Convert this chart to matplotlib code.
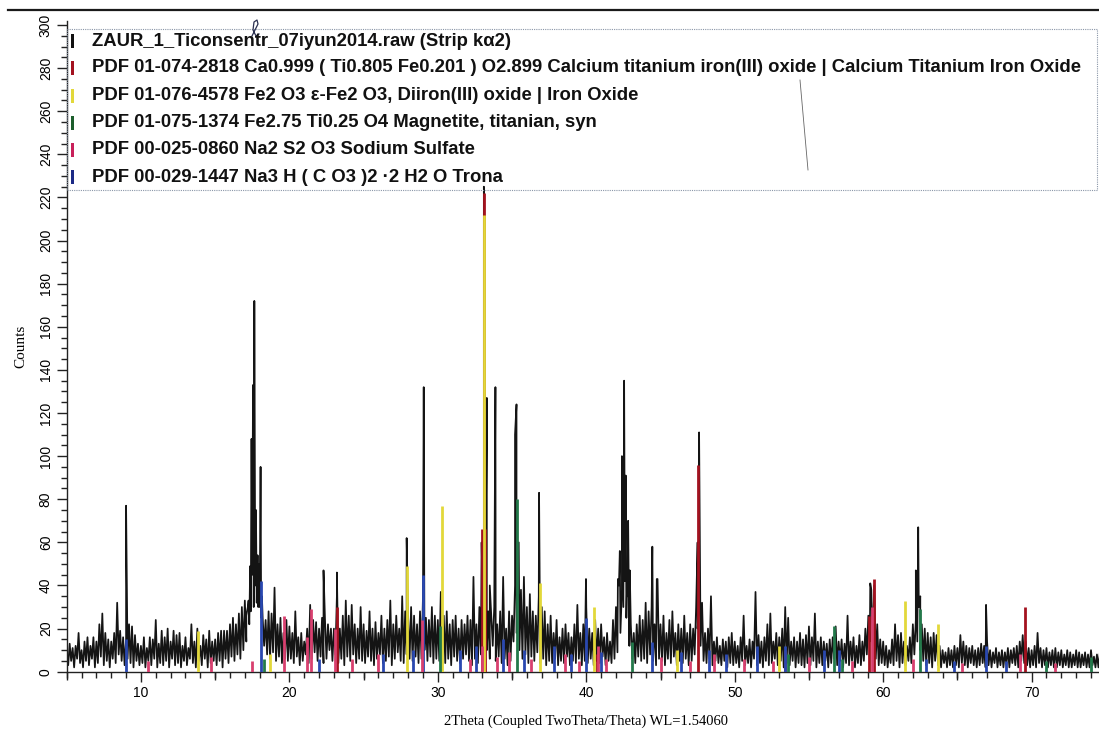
import numpy as np
import matplotlib
matplotlib.use("Agg")
import matplotlib.pyplot as plt
from matplotlib.ticker import MultipleLocator, FixedLocator, NullFormatter
from matplotlib.patches import Rectangle
from matplotlib.lines import Line2D

# --- measured pattern (Counts vs 2Theta) ---
# local maxima of the noisy background, every 0.2 deg from 5.0
bg_top = [
    8, 13, 11, 12, 18, 10, 14, 16, 12, 16, 14, 22, 27, 18, 15, 14, 18, 32, 19, 16, 15, 22, 21, 17, 13,
    12, 16, 11, 16, 15, 24, 13, 19, 16, 20, 14, 19, 17, 18, 12, 16, 11, 22, 14, 20, 12, 17, 15, 19, 14,
    15, 18, 19, 19, 19, 22, 25, 22, 27, 30, 33, 30, 28, 30, 32, 30, 25, 24, 28, 27, 39, 22, 25, 18, 24,
    21, 18, 28, 16, 18, 14, 20, 31, 24, 23, 20, 25, 24, 22, 20, 20, 35, 20, 26, 33, 26, 31, 22, 20, 30,
    22, 19, 28, 20, 23, 18, 26, 20, 24, 33, 22, 26, 20, 35, 28, 25, 30, 26, 22, 28, 35, 25, 24, 30, 26,
    24, 37, 26, 28, 22, 24, 26, 20, 24, 22, 26, 24, 44, 22, 30, 40, 30, 28, 26, 30, 22, 28, 44, 20, 28,
    26, 40, 45, 38, 44, 30, 36, 28, 26, 35, 30, 28, 22, 26, 18, 24, 16, 20, 22, 18, 16, 22, 31, 18, 22,
    30, 20, 18, 24, 20, 22, 16, 18, 14, 24, 30, 40, 38, 42, 35, 22, 18, 22, 26, 24, 32, 28, 30, 22, 43,
    22, 26, 18, 24, 28, 18, 22, 20, 26, 18, 22, 20, 30, 30, 32, 18, 20, 35, 14, 16, 12, 15, 14, 16, 18,
    14, 12, 16, 26, 12, 15, 14, 37, 17, 14, 16, 22, 27, 14, 18, 16, 20, 30, 25, 14, 16, 14, 18, 15, 17,
    21, 16, 27, 14, 16, 14, 13, 15, 16, 21, 14, 15, 13, 26, 14, 16, 12, 17, 14, 20, 26, 38, 40, 22, 15,
    14, 12, 10, 15, 22, 17, 18, 14, 12, 16, 22, 24, 30, 22, 20, 18, 16, 18, 17, 12, 10, 9, 11, 10, 12,
    11, 17, 14, 12, 11, 12, 10, 11, 13, 12, 14, 10, 9, 11, 9, 10, 9, 11, 10, 11, 12, 14, 17, 14, 11,
    10, 12, 18, 11, 10, 11, 9, 10, 11, 9, 10, 8, 10, 9, 8, 10, 9, 8, 9, 8, 10, 7, 8, 9, 8,
]
# valleys between them, every 0.2 deg from 5.1
bg_low = [
    3, 5, 2, 6, 4, 2, 5, 3, 6, 2, 4, 7, 3, 5, 2, 6, 4, 8, 5, 3, 6, 4, 2, 5, 3,
    4, 2, 5, 3, 6, 2, 4, 3, 5, 2, 6, 3, 4, 2, 5, 3, 6, 4, 2, 5, 3, 6, 2, 4, 5,
    3, 5, 2, 6, 4, 7, 5, 8, 6, 10, 14, 22, 45, 40, 30, 25, 12, 8, 6, 9, 5, 7, 4, 6, 5,
    6, 4, 7, 3, 5, 8, 4, 6, 9, 5, 7, 4, 6, 10, 5, 8, 4, 6, 3, 7, 5, 8, 4, 6, 5,
    4, 7, 5, 3, 6, 8, 4, 5, 7, 3, 6, 9, 5, 4, 8, 6, 5, 7, 4, 6, 10, 5, 7, 4, 6,
    5, 8, 4, 6, 3, 7, 5, 4, 6, 8, 5, 3, 6, 4, 8, 14, 10, 6, 12, 5, 7, 4, 6, 3, 5,
    14, 18, 10, 6, 8, 4, 7, 5, 9, 4, 6, 3, 5, 4, 6, 3, 5, 4, 7, 3, 5, 4, 6, 3, 5,
    4, 6, 3, 5, 4, 7, 3, 5, 4, 6, 9, 18, 30, 25, 12, 6, 4, 7, 5, 6, 4, 8, 5, 3, 6,
    5, 3, 6, 4, 7, 3, 5, 4, 6, 3, 5, 8, 20, 12, 5, 4, 6, 3, 5, 4, 3, 5, 2, 4, 3,
    4, 2, 5, 3, 4, 2, 6, 3, 4, 2, 5, 3, 4, 6, 3, 5, 2, 4, 3, 5, 2, 4, 3, 2, 4,
    3, 5, 2, 4, 3, 5, 2, 4, 6, 3, 5, 2, 4, 3, 5, 2, 4, 3, 5, 8, 14, 12, 6, 3, 4,
    3, 2, 4, 3, 5, 2, 4, 3, 5, 4, 8, 14, 10, 5, 3, 4, 2, 5, 3, 2, 4, 2, 3, 2, 3,
    2, 4, 3, 2, 4, 3, 2, 3, 4, 2, 3, 2, 4, 2, 3, 2, 3, 2, 4, 3, 2, 5, 4, 3, 2,
    3, 2, 4, 2, 3, 2, 3, 2, 2, 3, 2, 3, 2, 2, 3, 2, 2, 3, 2, 2, 3, 2, 2, 3, 2,
]
# sharp reflections of the measured pattern
peak_pos = [9.0, 17.1, 17.25, 17.36, 17.45, 17.55, 17.64, 17.75, 17.86, 17.95, 18.06, 18.15,
            22.3, 23.2, 27.9, 29.05, 32.95, 33.1, 33.3, 33.5, 33.88, 35.2, 35.3, 35.45, 36.82,
            39.98, 42.13, 42.26, 42.4, 42.55, 42.66, 42.75, 42.82, 42.93, 44.45, 44.75,
            47.5, 47.6, 59.13, 59.4, 62.2, 62.36, 62.5, 66.93]
peak_cnt = [77, 26, 33, 49, 108, 133, 172, 75, 54, 50, 95, 35,
            47, 46, 62, 132, 60, 225, 127, 40, 132, 110, 124, 60, 83,
            43, 43, 56, 100, 135, 91, 41, 70, 47, 58, 43,
            60, 111, 41, 40, 47, 67, 35, 31]

# --- reference patterns (stick positions / heights) ---
red_x = [23.2, 32.98, 33.1, 33.2, 40.7, 47.55, 53.4, 59.05, 59.4, 69.55]
red_h = [30, 66, 222, 66, 8, 96, 10, 26, 43, 30]
yellow_x = [13.85, 18.7, 27.9, 30.25, 33.1, 36.85, 40.55, 46.1, 53.0, 61.45, 63.7]
yellow_h = [19, 8, 49, 77, 212, 41, 30, 10, 12, 33, 22]
green_x = [18.3, 30.15, 35.35, 43.05, 53.6, 56.7, 57.2, 62.45, 71.0, 74.0]
green_h = [6, 21, 80, 14, 8, 21, 6, 29, 5, 7]
pink_x = [10.5, 14.7, 17.45, 19.66, 21.2, 21.46, 23.1, 24.2, 26.0, 28.95, 32.2, 33.0, 34.0,
          34.8, 36.3, 38.6, 39.5, 40.8, 41.3, 45.0, 47.0, 48.6, 50.6, 52.6, 55.0, 57.9, 59.25,
          62.0, 65.3, 69.2, 71.6]
pink_h = [5, 7, 5, 26, 16, 29, 20, 6, 8, 24, 6, 12, 7,
          9, 6, 8, 5, 12, 6, 7, 5, 8, 6, 5, 7, 5, 30,
          6, 4, 8, 4]
blue_x = [9.0, 18.08, 22.0, 26.3, 28.3, 29.0, 31.5, 32.6, 34.4, 35.8, 37.8, 39.0, 40.0, 41.0,
          44.4, 46.4, 48.3, 49.4, 51.5, 53.4, 56.0, 57.0, 62.9, 64.8, 66.9, 68.3]
blue_h = [15, 42, 6, 8, 10, 45, 10, 12, 15, 10, 12, 8, 25, 9,
          14, 9, 10, 8, 12, 12, 10, 10, 6, 5, 12, 5]

legend_labels = [
    "ZAUR_1_Ticonsentr_07iyun2014.raw (Strip k\u03b12)",
    "PDF 01-074-2818 Ca0.999 ( Ti0.805 Fe0.201 ) O2.899 Calcium titanium iron(III) oxide | Calcium Titanium Iron Oxide",
    "PDF 01-076-4578 Fe2 O3 \u03b5-Fe2 O3, Diiron(III) oxide | Iron Oxide",
    "PDF 01-075-1374 Fe2.75 Ti0.25 O4 Magnetite, titanian, syn",
    "PDF 00-025-0860 Na2 S2 O3 Sodium Sulfate",
    "PDF 00-029-1447 Na3 H ( C O3 )2 \u00b72 H2 O Trona",
]
legend_colors = ["#111111", "#a3121f", "#e2d83a", "#1c5e2c", "#c8205a", "#1c2a86"]

# merge scan points and sort by angle
tx = 5.0 + 0.2 * np.arange(len(bg_top))
lx = 5.1 + 0.2 * np.arange(len(bg_low))
xs = np.concatenate([tx, lx, peak_pos])
ys = np.concatenate([bg_top, bg_low, peak_cnt])
order = np.argsort(xs, kind="stable")
xs, ys = xs[order], ys[order]

W, H = 1099, 738
fig = plt.figure(figsize=(W / 100, H / 100), dpi=100)
ax_l, ax_b = 66.7 / W, (H - 671.7) / H
ax_w = 70 * 14.845 / W
ax_h = (671.7 - 20.7) / H
ax = fig.add_axes([ax_l, ax_b, ax_w, ax_h])

ax.plot(xs, ys, color="#141414", lw=1.25, zorder=2)

sticks = [(red_x, red_h, legend_colors[1]), (yellow_x, yellow_h, legend_colors[2]),
          (blue_x, blue_h, "#2a48b0"), (pink_x, pink_h, "#d8406f"),
          (green_x, green_h, "#23794a")]
for sx, sh, c in sticks:
    ax.vlines(sx, 0, sh, colors=c, lw=2.0, zorder=3)

ax.set_xlim(5, 75)
ax.set_ylim(0, 302)
for s in ["top", "right"]:
    ax.spines[s].set_visible(False)
for s in ["left", "bottom"]:
    ax.spines[s].set_linewidth(1.0)
    ax.spines[s].set_color("#222222")

ax.xaxis.set_major_locator(MultipleLocator(10))
ax.xaxis.set_minor_locator(MultipleLocator(1))
ax.yaxis.set_major_locator(MultipleLocator(20))
ax.yaxis.set_minor_locator(MultipleLocator(5))
ax.tick_params(axis="both", which="major", direction="out", length=7, width=1.0,
               color="#222222", labelsize=10, pad=3)
ax.tick_params(axis="both", which="minor", direction="out", length=4, width=1.0, color="#222222")
for lab in ax.get_yticklabels():
    lab.set_rotation(90)
    lab.set_va("center")
for lab in ax.get_xticklabels() + ax.get_yticklabels():
    lab.set_family(["Liberation Sans", "DejaVu Sans"])

# medium ticks at 5, 15, 25 ...
sec = ax.secondary_xaxis("bottom")
sec.xaxis.set_major_locator(FixedLocator(np.arange(5, 76, 10)))
sec.xaxis.set_major_formatter(NullFormatter())
sec.tick_params(length=5.5, width=1.0, color="#222222")
sec.spines["bottom"].set_visible(False)

ax.set_xlabel("2Theta (Coupled TwoTheta/Theta) WL=1.54060", family=["Liberation Serif"],
              fontsize=10.5, labelpad=11)
ax.set_ylabel("Counts", family=["Liberation Serif"], fontsize=11, labelpad=8)

# legend box in pixel coordinates
def fy(py):
    return 1 - py / H

fig.add_artist(Rectangle((67 / W, fy(190)), (1097 - 67) / W, (190 - 29) / H, transform=fig.transFigure,
                         fill=False, ec="#8a96a8", lw=0.8, ls=(0, (1, 1))))
row_y = [41, 68, 95.5, 122.5, 149.5, 177]
for lab, c, py in zip(legend_labels, legend_colors, row_y):
    fig.add_artist(Rectangle((70.5 / W, fy(py + 7)), 3.5 / W, 14 / H, transform=fig.transFigure,
                             color=c, lw=0))
    fig.text(91.5 / W, fy(py), lab, fontsize=13.3, fontweight="bold", va="center", ha="left",
             family=["Liberation Sans", "DejaVu Sans"], color="#111111")

# scan edge at the top and pen marks
fig.add_artist(Line2D([8 / W, 1.0], [fy(9.5), fy(9.5)], color="#1a1a1a", lw=1.6))
fig.add_artist(Line2D([800 / W, 808 / W], [fy(80), fy(170)], color="#666666", lw=0.6))
pen_x = [252, 255, 258, 257, 254, 253, 256, 259]
pen_y = [36, 30, 24, 20, 22, 30, 36, 34]
fig.add_artist(Line2D([p / W for p in pen_x], [fy(p) for p in pen_y], color="#2a3050", lw=0.9))

fig.savefig("out.png", dpi=100)
